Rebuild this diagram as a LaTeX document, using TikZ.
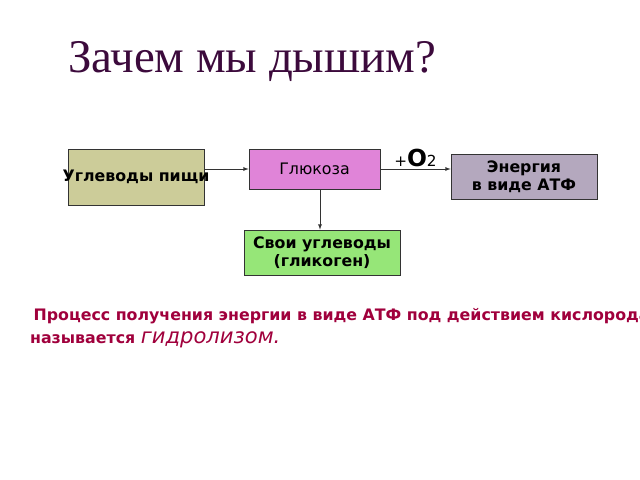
\documentclass[tikz,border=0pt]{standalone}
\usepackage{fontspec}
\setmainfont{DejaVu Sans}
\newfontfamily\titlefont{Liberation Serif}
\usetikzlibrary{positioning}
\definecolor{foodcol}{RGB}{204,204,153}
\definecolor{glucol}{RGB}{224,132,216}
\definecolor{atpcol}{RGB}{180,168,190}
\definecolor{glycol}{RGB}{150,230,120}
\definecolor{txtcol}{RGB}{160,0,60}
\definecolor{ttlcol}{RGB}{60,10,60}
\begin{document}
\begin{tikzpicture}[x=0.03cm,y=-0.03cm,
    box/.style={draw=black!80, semithick, inner sep=0pt, align=center, font=\bfseries\fontsize{13.5}{15}\selectfont},
    link/.style={draw=black!80, semithick, -latex}]
  \useasboundingbox (0,0) rectangle (640,480);
  \clip (0,0) rectangle (640,480);
  \node[font=\titlefont\fontsize{40}{44}\selectfont, text=ttlcol] (title) at (252,62) {Зачем мы дышим?};
  % boxes
  \node[box, fill=foodcol, minimum width=136*0.03cm, minimum height=56*0.03cm] (food) at (136,177) {\makebox[0pt]{Углеводы пищи}};
  \node[box, fill=glucol, minimum width=131*0.03cm, minimum height=40*0.03cm, font=\fontsize{13.5}{15}\selectfont] (glu) at (314.5,169) {Глюкоза};
  \node[box, fill=atpcol, minimum width=146*0.03cm, minimum height=45*0.03cm] (atp) at (524,176.5) {Энергия\\в виде АТФ};
  \node[box, fill=glycol, minimum width=156*0.03cm, minimum height=45*0.03cm] (gly) at (322,252.5) {Свои углеводы\\(гликоген)};
  % links
  \draw[link] (food.east |- glu.west) -- (glu.west);
  \draw[link] (glu.east) -- (glu.east -| atp.west) node[midway, above=-2pt, font=\fontsize{13}{14}\selectfont] (oxy) {+\textbf{\fontsize{20}{22}\selectfont O}2};
  \draw[link] (glu.south -| 320,0) -- (gly.north -| 320,0);
  % caption
  \node[anchor=base west, text=txtcol, font=\bfseries\fontsize{13.5}{15}\selectfont] (line1) at (24,320) {\ Процесс получения энергии в виде АТФ под действием кислорода};
  \node[anchor=base west, text=txtcol, font=\bfseries\fontsize{13.5}{15}\selectfont] (line2) at (26,343) {называется \mdseries\itshape\fontsize{18}{20}\selectfont гидролизом.};
\end{tikzpicture}
\end{document}
